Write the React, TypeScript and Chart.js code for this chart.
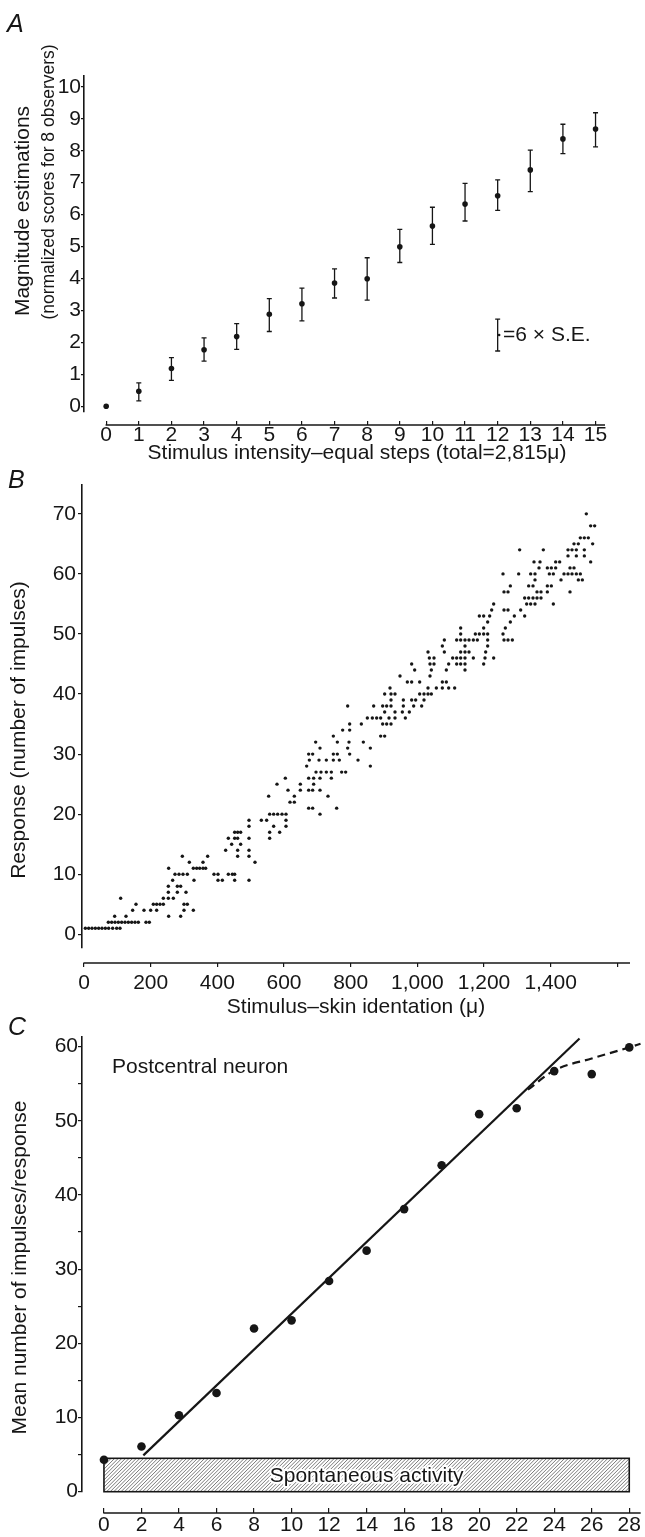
import React, { useEffect, useRef } from "react";
import { Chart, registerables } from "chart.js";

Chart.register(...registerables);

const FONT = "'Liberation Sans', Arial, Helvetica, sans-serif";
const INK = "#161616";

// ---------- Panel A : magnitude estimations ----------
const aSteps = [0, 1, 2, 3, 4, 5, 6, 7, 8, 9, 10, 11, 12, 13, 14, 15];
const aMeans = [0, 0.47, 1.18, 1.77, 2.18, 2.88, 3.21, 3.86, 3.99, 4.99, 5.64, 6.33, 6.59, 7.4, 8.37, 8.68];
const aErrLow = [0, 0.17, 0.81, 1.41, 1.78, 2.34, 2.67, 3.39, 3.32, 4.5, 5.07, 5.8, 6.13, 6.72, 7.91, 8.12];
const aErrHigh = [0, 0.73, 1.52, 2.14, 2.59, 3.37, 3.7, 4.3, 4.65, 5.54, 6.23, 6.98, 7.09, 8.02, 8.83, 9.19];
const aYTicks = [0, 1, 2, 3, 4, 5, 6, 7, 8, 9, 10];
const aKeyStep = 12;
const aKeyMid = 2.23;
const aKeyHalf = 0.5;

// ---------- Panel B : single-fibre responses ----------
const bLevels = [
  1, 2, 3, 4, 5, 6, 7, 8, 9, 10, 11, 12, 13, 14, 15, 16, 17, 18, 19, 20, 21, 22, 23, 24, 25, 26, 27, 28, 29, 30,
  31, 32, 33, 34, 35, 36, 37, 38, 39, 40, 41, 42, 43, 44, 45, 46, 47, 48, 49, 50, 51, 52, 53, 54, 55, 56, 57, 58,
  59, 60, 61, 62, 63, 64, 65, 66, 68, 70,
];
const bIndentsByLevel = [
  [4, 14, 24, 34, 44, 54, 64, 74, 86, 98, 108],
  [73, 83, 93, 103, 113, 123, 133, 143, 153, 163, 186, 196],
  [92, 126, 254, 290],
  [146, 180, 200, 218, 300, 328],
  [156, 208, 218, 228, 238, 300, 310],
  [110, 238, 253, 268],
  [253, 280, 306],
  [253, 280, 290],
  [266, 330, 402, 415, 452, 495],
  [273, 285, 297, 310, 390, 402, 433, 445, 452],
  [254, 328, 338, 347, 357, 365],
  [316, 357, 513],
  [295, 371, 461, 495],
  [425, 461, 495],
  [443, 470],
  [433, 452, 461, 495, 557],
  [452, 461, 470, 557, 587],
  [495, 569, 606],
  [495, 532, 548, 606],
  [557, 569, 581, 594, 606, 708],
  [674, 686, 758],
  [618, 631],
  [554, 631, 732],
  [612, 649, 674, 686, 708],
  [579, 649, 689],
  [604, 674, 689, 708, 742],
  [696, 711, 727, 742, 773, 785],
  [668, 859],
  [676, 705, 727, 748, 766, 822],
  [674, 686, 748, 760, 797],
  [708, 791, 859],
  [695, 760, 795, 838],
  [748, 890, 902],
  [776, 797],
  [797, 832, 896, 908, 921],
  [850, 865, 878, 890, 915, 933, 964],
  [902, 933, 955, 976],
  [791, 869, 896, 908, 921, 958, 989, 1013],
  [921, 958, 983, 995, 1020],
  [902, 921, 933, 1007, 1020, 1032, 1042],
  [918, 1032, 1057, 1075, 1094, 1112],
  [970, 983, 1007, 1075, 1087],
  [948, 1038],
  [992, 1042, 1087, 1143],
  [983, 1038, 1050, 1094, 1118, 1130, 1143, 1199],
  [1036, 1050, 1106, 1118, 1130, 1143, 1168, 1203, 1229],
  [1032, 1081, 1130, 1143, 1155, 1205],
  [1075, 1143, 1211],
  [1081, 1118, 1130, 1143, 1155, 1168, 1180, 1211, 1260, 1272, 1285],
  [1130, 1174, 1186, 1199, 1211, 1257],
  [1130, 1199, 1264],
  [1211, 1279],
  [1186, 1199, 1217, 1291, 1322],
  [1223, 1260, 1272, 1310],
  [1229, 1328, 1340, 1353, 1408],
  [1322, 1334, 1347, 1359, 1371],
  [1260, 1272, 1359, 1371, 1390, 1458],
  [1279, 1334, 1347, 1390, 1402],
  [1353, 1431, 1483, 1495],
  [1257, 1304, 1340, 1353, 1396, 1408, 1440, 1452, 1464, 1477, 1489],
  [1365, 1390, 1402, 1415, 1458, 1470],
  [1350, 1368, 1415, 1427, 1520],
  [1452, 1477, 1501],
  [1307, 1378, 1452, 1464, 1477, 1501],
  [1470, 1483, 1526],
  [1489, 1501, 1513],
  [1520, 1532],
  [1507],
];
const bXTicks = [0, 200, 400, 600, 800, 1000, 1200, 1400, 1600];
const bXLabelled = [0, 200, 400, 600, 800, 1000, 1200, 1400];
const bYTicks = [0, 10, 20, 30, 40, 50, 60, 70];

// ---------- Panel C : postcentral neuron ----------
const cSteps = [0, 2, 4, 6, 8, 10, 12, 14, 16, 18, 20, 22, 24, 26, 28];
const cMeans = [4.3, 6.1, 10.3, 13.3, 22.0, 23.1, 28.4, 32.5, 38.1, 44.0, 50.9, 51.7, 56.7, 56.3, 59.9];
const cFitX = [2.1, 25.35];
const cFitY = [4.9, 61.1];
const cCurveX = [22.6, 24, 26, 28, 28.6];
const cCurveY = [54.2, 56.8, 58.4, 59.9, 60.4];
const cSpontLevel = 4.5;
const cSpontFrom = 0;
const cSpontTo = 28;
const cXTicks = [0, 2, 4, 6, 8, 10, 12, 14, 16, 18, 20, 22, 24, 26, 28];
const cYTicks = [0, 5, 10, 15, 20, 25, 30, 35, 40, 45, 50, 55, 60];

// ---------- helpers ----------
type TextItem = {
  text: string;
  x: number;
  y: number;
  size: number;
  align?: CanvasTextAlign;
  rotate?: boolean;
  italic?: boolean;
};

const zeroPad = (s: any) => {
  s.paddingLeft = 0;
  s.paddingRight = 0;
  s.paddingTop = 0;
  s.paddingBottom = 0;
};

function yScale(min: number, max: number, ticks: number[], width: number, tickLen: number, pad: number, cb?: (v: number) => string) {
  return {
    type: "linear",
    position: "left",
    min,
    max,
    afterBuildTicks: (s: any) => {
      s.ticks = ticks.map((v) => ({ value: v }));
    },
    afterFit: (s: any) => {
      s.width = width;
      zeroPad(s);
    },
    border: { display: true, color: INK, width: 1.6 },
    grid: { display: true, drawOnChartArea: false, drawTicks: true, tickLength: tickLen, color: INK, lineWidth: 1.2 },
    ticks: {
      color: INK,
      padding: pad,
      font: { family: FONT, size: 21 },
      callback: (v: any) => (cb ? cb(Number(v)) : String(v)),
    },
  };
}

function xScale(min: number, max: number, ticks: number[], at: number, tickLen: number, pad: number, cb?: (v: number) => string) {
  return {
    type: "linear",
    position: { y: at },
    min,
    max,
    afterBuildTicks: (s: any) => {
      s.ticks = ticks.map((v) => ({ value: v }));
    },
    afterFit: (s: any) => zeroPad(s),
    border: { display: false },
    grid: { display: true, drawOnChartArea: false, drawTicks: true, tickLength: tickLen, color: INK, lineWidth: 1.2 },
    ticks: {
      color: INK,
      padding: pad,
      autoSkip: false,
      maxRotation: 0,
      minRotation: 0,
      font: { family: FONT, size: 21 },
      callback: (v: any) => (cb ? cb(Number(v)) : String(v)),
    },
  };
}

const textPlugin = (items: TextItem[]) => ({
  id: "panelText",
  afterDraw(chart: any) {
    const ctx = chart.ctx as CanvasRenderingContext2D;
    ctx.save();
    ctx.fillStyle = INK;
    ctx.textBaseline = "middle";
    for (const t of items) {
      ctx.save();
      ctx.font = `${t.italic ? "italic " : ""}${t.size}px ${FONT}`;
      ctx.textAlign = t.align ?? "center";
      ctx.translate(t.x, t.y);
      if (t.rotate) ctx.rotate(-Math.PI / 2);
      ctx.fillText(t.text, 0, 0);
      ctx.restore();
    }
    ctx.restore();
  },
});

const axisLinePlugin = (startValue: number, atValue: number) => ({
  id: "xAxisLine",
  afterDraw(chart: any) {
    const { ctx, scales, chartArea } = chart;
    const yy = Math.round(scales.y.getPixelForValue(atValue));
    ctx.save();
    ctx.strokeStyle = INK;
    ctx.lineWidth = 1.6;
    ctx.beginPath();
    ctx.moveTo(scales.x.getPixelForValue(startValue) - 0.6, yy);
    ctx.lineTo(chartArea.right, yy);
    ctx.stroke();
    ctx.restore();
  },
});

const baseOptions = (padding: any) => ({
  responsive: false,
  animation: false,
  devicePixelRatio: 1,
  events: [],
  layout: { padding },
  plugins: { legend: { display: false }, tooltip: { enabled: false } },
});

// ---------- chart builders ----------
function buildA() {
  const errorBars = {
    id: "errorBars",
    afterDatasetsDraw(chart: any) {
      const { ctx, scales } = chart;
      const { x, y } = scales;
      const bar = (step: number, lo: number, hi: number) => {
        const px = x.getPixelForValue(step);
        const y1 = y.getPixelForValue(lo);
        const y2 = y.getPixelForValue(hi);
        ctx.beginPath();
        ctx.moveTo(px, y1);
        ctx.lineTo(px, y2);
        ctx.moveTo(px - 2.5, y1);
        ctx.lineTo(px + 2.5, y1);
        ctx.moveTo(px - 2.5, y2);
        ctx.lineTo(px + 2.5, y2);
        ctx.stroke();
      };
      ctx.save();
      ctx.strokeStyle = INK;
      ctx.lineWidth = 1.3;
      aSteps.forEach((s, i) => {
        if (aErrHigh[i] > aErrLow[i]) bar(s, aErrLow[i], aErrHigh[i]);
      });
      bar(aKeyStep, aKeyMid - aKeyHalf, aKeyMid + aKeyHalf);
      ctx.fillStyle = INK;
      ctx.beginPath();
      ctx.arc(x.getPixelForValue(aKeyStep) + 1.5, y.getPixelForValue(aKeyMid), 1.3, 0, Math.PI * 2);
      ctx.fill();
      ctx.restore();
    },
  };
  return {
    type: "scatter",
    data: {
      datasets: [
        {
          data: aSteps.map((s, i) => ({ x: s, y: aMeans[i] })),
          pointRadius: 2.8,
          pointBackgroundColor: INK,
          pointBorderWidth: 0,
          clip: false,
        },
      ],
    },
    options: {
      ...baseOptions({ left: 0, top: 76, right: 40, bottom: 58 }),
      scales: {
        x: xScale(-0.68, 15.29, aSteps, -0.585, -4, 2),
        y: yScale(-0.18, 10.34, aYTicks, 84, 3, 0),
      },
    },
    plugins: [
      errorBars,
      axisLinePlugin(0, -0.585),
      textPlugin([
        { text: "A", x: 7, y: 25, size: 25, align: "left", italic: true },
        { text: "Magnitude estimations", x: 23, y: 211, size: 21, rotate: true },
        { text: "(normalized scores for 8 observers)", x: 49, y: 182, size: 17.5, rotate: true },
        { text: "Stimulus intensity\u2013equal steps (total=2,815\u03bc)", x: 357, y: 453, size: 21 },
        { text: "=6 \u00d7 S.E.", x: 503, y: 335, size: 21, align: "left" },
      ]),
    ],
  };
}

function buildB() {
  const points: { x: number; y: number }[] = [];
  bLevels.forEach((lvl, i) => {
    bIndentsByLevel[i].forEach((ind) => points.push({ x: ind, y: lvl }));
  });
  return {
    type: "scatter",
    data: {
      datasets: [
        {
          data: points,
          pointRadius: 1.7,
          pointBackgroundColor: INK,
          pointBorderWidth: 0,
          clip: false,
        },
      ],
    },
    options: {
      ...baseOptions({ left: 0, top: 15, right: 15, bottom: 72 }),
      scales: {
        x: xScale(-6, 1638, bXTicks, -4.83, 4, 3, (v) => (bXLabelled.includes(v) ? v.toLocaleString("en-US") : "")),
        y: yScale(-2.28, 74.8, bYTicks, 82, 4, 2),
      },
    },
    plugins: [
      axisLinePlugin(0, -4.83),
      textPlugin([
        { text: "B", x: 8, y: 11, size: 25, align: "left", italic: true },
        { text: "Response (number of impulses)", x: 19.5, y: 260, size: 21, rotate: true },
        { text: "Stimulus\u2013skin identation (\u03bc)", x: 356, y: 537, size: 21 },
      ]),
    ],
  };
}

function buildC() {
  const hatch = {
    id: "spontaneous",
    beforeDatasetsDraw(chart: any) {
      const { ctx, scales } = chart;
      const { x, y } = scales;
      const x1 = x.getPixelForValue(cSpontFrom);
      const x2 = x.getPixelForValue(cSpontTo);
      const y1 = y.getPixelForValue(cSpontLevel);
      const y2 = y.getPixelForValue(0);
      ctx.save();
      ctx.beginPath();
      ctx.rect(x1, y1, x2 - x1, y2 - y1);
      ctx.clip();
      ctx.strokeStyle = "#6a6a6a";
      ctx.lineWidth = 0.9;
      const h = y2 - y1;
      ctx.beginPath();
      for (let sx = x1 - h; sx < x2 + h; sx += 3.6) {
        ctx.moveTo(sx, y2);
        ctx.lineTo(sx + h, y1);
      }
      ctx.stroke();
      ctx.restore();
      ctx.save();
      ctx.strokeStyle = INK;
      ctx.lineWidth = 1.6;
      ctx.strokeRect(x1, y1, x2 - x1, y2 - y1);
      ctx.font = `21px ${FONT}`;
      ctx.textAlign = "center";
      ctx.textBaseline = "middle";
      const tx = x.getPixelForValue((cSpontFrom + cSpontTo) / 2);
      const ty = y.getPixelForValue(cSpontLevel / 2) + 1;
      ctx.strokeStyle = "#ffffff";
      ctx.lineWidth = 4;
      ctx.lineJoin = "round";
      ctx.strokeText("Spontaneous activity", tx, ty);
      ctx.fillStyle = INK;
      ctx.fillText("Spontaneous activity", tx, ty);
      ctx.restore();
    },
  };
  return {
    type: "scatter",
    data: {
      datasets: [
        {
          data: cFitX.map((v, i) => ({ x: v, y: cFitY[i] })),
          showLine: true,
          borderColor: INK,
          borderWidth: 2.2,
          pointRadius: 0,
          clip: false,
        },
        {
          data: cCurveX.map((v, i) => ({ x: v, y: cCurveY[i] })),
          showLine: true,
          borderColor: INK,
          borderWidth: 2.2,
          borderDash: [8, 5],
          cubicInterpolationMode: "monotone",
          pointRadius: 0,
          clip: false,
        },
        {
          data: cSteps.map((s, i) => ({ x: s, y: cMeans[i] })),
          pointRadius: 4.3,
          pointBackgroundColor: INK,
          pointBorderWidth: 0,
          clip: false,
        },
      ],
    },
    options: {
      ...baseOptions({ left: 0, top: 25, right: 1, bottom: 45.3 }),
      scales: {
        x: xScale(-1.17, 28.61, cXTicks, -2.91, -5, 4.6),
        y: yScale(0, 61.3, cYTicks, 82, 4, 0, (v) => (v % 10 === 0 ? String(v) : "")),
      },
    },
    plugins: [
      hatch,
      axisLinePlugin(0, -2.91),
      textPlugin([
        { text: "C", x: 8, y: 16, size: 25, align: "left", italic: true },
        { text: "Postcentral neuron", x: 112, y: 55, size: 21, align: "left" },
        { text: "Mean number of impulses/response", x: 20.5, y: 255.5, size: 21, rotate: true },
      ]),
    ],
  };
}

function ChartCanvas({ build, top, height }: { build: () => any; top: number; height: number }) {
  const ref = useRef<HTMLCanvasElement | null>(null);
  useEffect(() => {
    if (!ref.current) return;
    const chart = new Chart(ref.current, build());
    return () => chart.destroy();
  }, []);
  return (
    <canvas
      ref={ref}
      width={645}
      height={height}
      style={{ position: "absolute", left: 0, top, width: 645, height, display: "block" }}
    />
  );
}

export default function App() {
  return (
    <div style={{ position: "absolute", left: 0, top: 0, width: 645, height: 1537, background: "#ffffff", overflow: "hidden" }}>
      <ChartCanvas build={buildA} top={0} height={470} />
      <ChartCanvas build={buildB} top={470} height={550} />
      <ChartCanvas build={buildC} top={1012} height={525} />
    </div>
  );
}
